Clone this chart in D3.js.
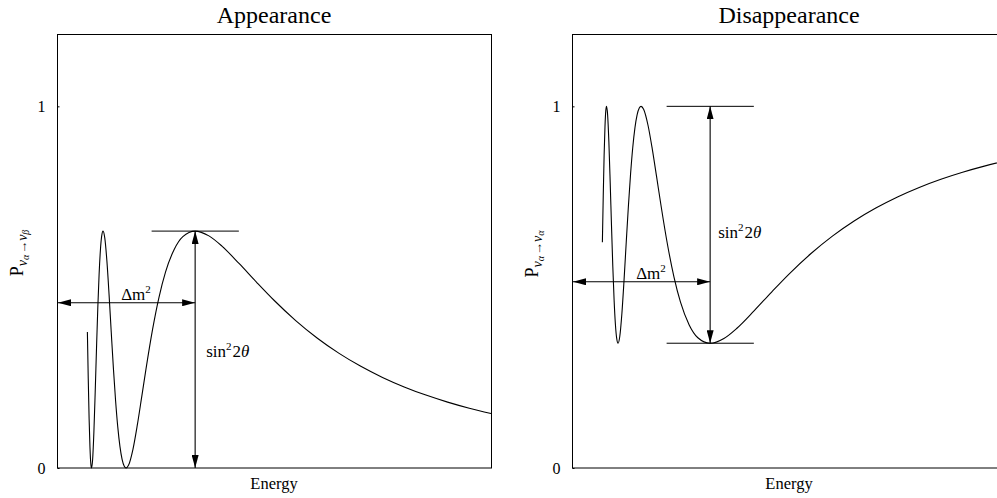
<!DOCTYPE html>
<html>
<head>
<meta charset="utf-8">
<script src="https://cdn.jsdelivr.net/npm/d3@7"></script>
<style>
  html, body { margin: 0; padding: 0; background: #fff; overflow: hidden; }
  svg { display: block; }
  svg text { font-family: "Liberation Serif", "DejaVu Serif", serif; fill: #000; }
</style>
</head>
<body>
<svg id="chart" width="997" height="498"></svg>
<script>
// Neutrino energy (arbitrary units) at which the probabilities are sampled
const energy = [
  0.70, 0.72, 0.74, 0.76, 0.78, 0.7958, 0.82, 0.85, 0.88, 0.91, 0.94, 0.97, 1.00, 1.03, 1.061,
  1.10, 1.15, 1.20, 1.25, 1.30, 1.35, 1.40, 1.45, 1.50, 1.55, 1.5915,
  1.65, 1.75, 1.85, 1.95, 2.05, 2.20, 2.35, 2.50, 2.70, 2.90, 3.183,
  3.50, 3.80, 4.20, 4.60, 5.00, 5.50, 6.00, 6.50, 7.00, 7.50, 8.00, 8.50, 9.00, 9.50, 10.0
];

// Appearance probability P(να → νβ)
const appearanceProb = [
  0.376, 0.247, 0.136, 0.056, 0.0105, 0.0, 0.0223, 0.0997, 0.2097, 0.3297, 0.4423, 0.5353, 0.6023, 0.6418, 0.655,
  0.637, 0.5719, 0.4787, 0.3752, 0.2747, 0.1861, 0.1137, 0.0597, 0.0238, 0.0046, 0.0,
  0.0081, 0.0516, 0.1183, 0.1952, 0.2734, 0.382, 0.4721, 0.5416, 0.6044, 0.6399, 0.655,
  0.6418, 0.6135, 0.5648, 0.5134, 0.4638, 0.4077, 0.3589, 0.317, 0.2812, 0.2505, 0.2242, 0.2016, 0.1822, 0.1653, 0.1505
];

// Survival probability P(να → να)
const disappearanceProb = [
  0.624, 0.753, 0.864, 0.944, 0.9895, 1.0, 0.9777, 0.9003, 0.7903, 0.6703, 0.5577, 0.4647, 0.3977, 0.3582, 0.345,
  0.363, 0.4281, 0.5213, 0.6248, 0.7253, 0.8139, 0.8863, 0.9403, 0.9762, 0.9954, 1.0,
  0.9919, 0.9484, 0.8817, 0.8048, 0.7266, 0.618, 0.5279, 0.4584, 0.3956, 0.3601, 0.345,
  0.3582, 0.3865, 0.4352, 0.4866, 0.5362, 0.5923, 0.6411, 0.683, 0.7188, 0.7495, 0.7758, 0.7984, 0.8178, 0.8347, 0.8495
];

const yTicks = [0, 1];

// Oscillation amplitude sin²2θ and the energy of the first (lowest-order) extremum
const mixingAmplitude = 0.655;
const firstExtremumEnergy = 3.183;
// Energy span of the short level markers drawn at the extremum
const levelMarkSpan = [2.18, 4.19];
// Heights of the Δm² arrows
const dm2LevelAppearance = 0.457;
const dm2LevelDisappearance = 0.515;
const dm2LabelEnergy = 1.82;

const serif = "Liberation Serif, DejaVu Serif, serif";
const svg = d3.select("#chart").attr("font-family", serif);
const panelW = 434, panelH = 434, panelTop = 34;

const x = d3.scaleLinear().domain([0, 10]).range([0, panelW]);
const y = d3.scaleLinear().domain([0, 1.2]).range([panelH, 0]);

// Arrowhead marker
const defs = svg.append("defs");
defs.append("marker")
  .attr("id", "arrow")
  .attr("viewBox", "0 0 13 7")
  .attr("refX", 13).attr("refY", 3.5)
  .attr("markerWidth", 13).attr("markerHeight", 7)
  .attr("markerUnits", "userSpaceOnUse")
  .attr("orient", "auto-start-reverse")
  .append("path")
  .attr("d", "M0,0 L13,3.5 L0,7 Z")
  .attr("fill", "#000");

function drawPanel(left, title, probs, yLabelSub, opts) {
  const g = svg.append("g").attr("transform", `translate(${left},${panelTop})`);

  // Title
  g.append("text")
    .attr("x", panelW / 2).attr("y", -11)
    .attr("text-anchor", "middle")
    .attr("font-family", serif)
    .attr("font-size", 24)
    .text(title);

  // Frame
  g.append("rect")
    .attr("x", 0.5).attr("y", 0.5)
    .attr("width", panelW).attr("height", panelH - 0.5)
    .attr("fill", "none").attr("stroke", "#000").attr("stroke-width", 1);

  // Y axis ticks
  const yAxis = d3.axisLeft(y).tickValues(yTicks).tickFormat(d3.format("d"))
    .tickSizeInner(-2).tickSizeOuter(0).tickPadding(12);
  const ax = g.append("g").attr("transform", "translate(0.5,0)").call(yAxis)
    .attr("font-family", serif).attr("font-size", 16);
  ax.select(".domain").remove();
  ax.selectAll("line").attr("stroke", "#000");
  ax.selectAll("text")
    .attr("font-family", serif)
    .attr("font-size", 16)
    .attr("fill", "#000");

  // X axis label
  g.append("text")
    .attr("x", panelW / 2).attr("y", panelH + 21)
    .attr("text-anchor", "middle")
    .attr("font-family", serif)
    .attr("font-size", 16.5)
    .text("Energy");

  // Y axis label: P with subscript ν_α → ν_x
  const yl = g.append("text")
    .attr("transform", `translate(-34,${opts.yLabelMid}) rotate(-90)`)
    .attr("text-anchor", "middle")
    .attr("font-family", serif)
    .attr("font-size", 18);
  yl.append("tspan").text("P");
  yl.append("tspan").attr("font-size", 14).attr("font-style", "italic").attr("dy", 4).text("ν");
  yl.append("tspan").attr("font-size", 10).attr("font-style", "italic").attr("dy", 2).text("α");
  yl.append("tspan").attr("font-size", 13).attr("dy", -2).attr("dx", 1).text("→");
  yl.append("tspan").attr("font-size", 14).attr("font-style", "italic").text("ν");
  yl.append("tspan").attr("font-size", 10).attr("font-style", "italic").attr("dy", 2).text(yLabelSub);

  // Probability curve
  const pts = energy.map((e, i) => ({ e, p: probs[i] }));
  const line = d3.line().x(d => x(d.e)).y(d => y(d.p)).curve(d3.curveMonotoneX);
  g.append("path")
    .datum(pts)
    .attr("d", line)
    .attr("fill", "none")
    .attr("stroke", "#000")
    .attr("stroke-width", 1.1);

  // Level markers at the extremum
  opts.levels.forEach(v => {
    g.append("line")
      .attr("x1", x(levelMarkSpan[0])).attr("x2", x(levelMarkSpan[1]))
      .attr("y1", y(v)).attr("y2", y(v))
      .attr("stroke", "#000").attr("stroke-width", 1);
  });

  // Vertical sin²2θ arrow
  g.append("line")
    .attr("x1", x(firstExtremumEnergy)).attr("x2", x(firstExtremumEnergy))
    .attr("y1", y(opts.vArrow[0])).attr("y2", y(opts.vArrow[1]))
    .attr("stroke", "#000").attr("stroke-width", 1.1)
    .attr("marker-start", "url(#arrow)").attr("marker-end", "url(#arrow)");

  // Horizontal Δm² arrow
  g.append("line")
    .attr("x1", x(0) + 1).attr("x2", x(firstExtremumEnergy))
    .attr("y1", y(opts.dm2Level)).attr("y2", y(opts.dm2Level))
    .attr("stroke", "#000").attr("stroke-width", 1.1)
    .attr("marker-start", "url(#arrow)").attr("marker-end", "url(#arrow)");

  // Δm² label
  const dl = g.append("text")
    .attr("x", x(dm2LabelEnergy)).attr("y", y(opts.dm2Level) - 3)
    .attr("text-anchor", "middle")
    .attr("font-family", serif)
    .attr("font-size", 17);
  dl.append("tspan").text("Δm");
  dl.append("tspan").attr("font-size", 11).attr("dy", -7).text("2");

  // sin²2θ label
  const sl = g.append("text")
    .attr("x", x(firstExtremumEnergy) + opts.sinDx).attr("y", y(opts.sinLevel))
    .attr("font-family", serif)
    .attr("font-size", 17);
  sl.append("tspan").text("sin");
  sl.append("tspan").attr("font-size", 11).attr("dy", -7).text("2");
  sl.append("tspan").attr("dy", 7).attr("dx", 1).text("2");
  sl.append("tspan").attr("font-style", "italic").text("θ");
}

drawPanel(57, "Appearance", appearanceProb, "β", {
  levels: [mixingAmplitude],
  vArrow: [mixingAmplitude, 0],
  dm2Level: dm2LevelAppearance,
  sinLevel: 0.307,
  sinDx: 11,
  yLabelMid: 219
});

drawPanel(572, "Disappearance", disappearanceProb, "α", {
  levels: [1, 1 - mixingAmplitude],
  vArrow: [1, 1 - mixingAmplitude],
  dm2Level: dm2LevelDisappearance,
  sinLevel: 0.637,
  sinDx: 8,
  yLabelMid: 220
});
</script>
</body>
</html>
